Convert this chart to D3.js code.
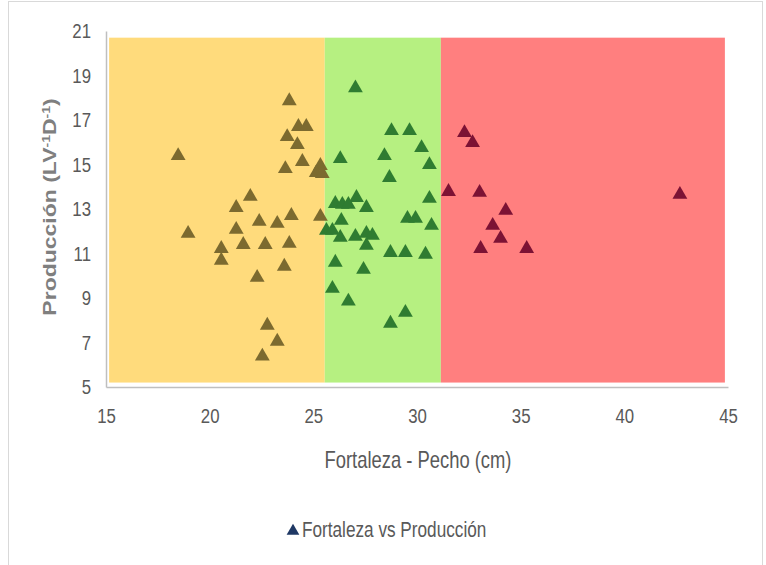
<!DOCTYPE html>
<html>
<head>
<meta charset="utf-8">
<script src="https://cdn.jsdelivr.net/npm/d3@7"></script>
<style>
  body { margin: 0; background: #fff; }
  svg text { font-family: "Liberation Sans", Arial, sans-serif; }
</style>
</head>
<body>
<div id="chart"></div>
<script>
// data
const fortaleza = [
  18.48, 18.96, 20.56, 20.56, 21.28, 21.28, 21.62, 21.96, 22.29, 22.39,
  22.68, 22.78, 22.54, 23.26, 23.26, 23.6, 23.65, 23.74, 23.84, 23.84,
  23.94, 24.28, 24.66, 24.23, 24.47, 25.34, 25.34, 25.14, 25.43,
  27.03, 28.77, 29.64, 30.22, 26.3, 28.43, 30.6, 28.67, 30.6, 27.08,
  26.06, 26.4, 26.69, 27.56, 26.35, 29.54, 29.93, 30.7, 25.63, 25.92,
  26.3, 27.03, 27.56, 27.85, 27.56, 28.72, 29.44, 30.41, 26.06, 27.42,
  25.92, 26.69, 29.44, 28.72,
  32.29, 32.68, 31.52, 33.02, 34.28, 33.65, 34.03, 33.07, 35.29, 42.68
];
const produccion = [
  15.39, 11.9, 11.22, 10.69, 13.06, 12.08, 11.4, 13.56, 9.92, 12.44,
  11.4, 7.77, 6.38, 7.05, 12.35, 10.42, 14.81, 16.25, 17.86, 11.45,
  12.7, 16.7, 16.7, 15.89, 15.13, 12.66, 14.95, 14.63, 14.59,
  18.44, 16.52, 16.52, 15.75, 15.26, 15.39, 14.99, 14.41, 13.47, 13.51,
  13.24, 13.2, 13.2, 13.06, 12.48, 12.57, 12.57, 12.26, 12.03, 12.03,
  11.72, 11.76, 11.9, 11.81, 11.36, 11.04, 11.04, 10.96, 10.6, 10.28,
  9.43, 8.85, 8.35, 7.86,
  16.43, 15.98, 13.78, 13.74, 12.93, 12.26, 11.67, 11.22, 11.22, 13.65
];
const zoneEdges = [15.15, 25.55, 31.15, 44.85];
const zoneBand = [5.2, 20.7];
const xTicks = [15, 20, 25, 30, 35, 40, 45];
const yTicks = [5, 7, 9, 11, 13, 15, 17, 19, 21];
const seriesName = "Fortaleza vs Producción";

const zoneFill = ["#ffdb7c", "#b6f081", "#ff7f7f"];
const markerFill = ["#7c6a2f", "#2f7c31", "#7c1234"];
const textColor = "#595959";
const lineColor = "#bfbfbf";
const squeeze = 0.8; // the reference text is narrow and tall

const width = 766, height = 565;

const svg = d3.select("#chart").append("svg")
  .attr("width", width)
  .attr("height", height);

// outer chart frame
svg.append("rect")
  .attr("x", 8.5).attr("y", 1.5)
  .attr("width", 754).attr("height", 600)
  .attr("fill", "none")
  .attr("stroke", "#d9d9d9");

const x = d3.scaleLinear().domain([15, 45]).range([106, 728]);
const y = d3.scaleLinear().domain([5, 21]).range([387, 31]);

// coloured zones
const zones = d3.range(zoneEdges.length - 1).map(i => ({ x0: zoneEdges[i], x1: zoneEdges[i + 1], i: i }));
svg.selectAll(".zone")
  .data(zones)
  .join("rect")
  .attr("class", "zone")
  .attr("x", d => x(d.x0))
  .attr("width", d => x(d.x1) - x(d.x0))
  .attr("y", y(zoneBand[1]))
  .attr("height", y(zoneBand[0]) - y(zoneBand[1]))
  .attr("fill", d => zoneFill[d.i]);

// axes
const xAxis = svg.append("g")
  .attr("transform", `translate(0,${y(5)})`)
  .call(d3.axisBottom(x).tickValues(xTicks).tickSize(0).tickPadding(21));
const yAxis = svg.append("g")
  .attr("transform", `translate(${x(15)},0)`)
  .call(d3.axisLeft(y).tickValues(yTicks).tickSize(0).tickPadding(15));

[xAxis, yAxis].forEach(g => {
  g.select(".domain").attr("stroke", lineColor).attr("stroke-width", 1.5);
  g.selectAll("text")
    .attr("fill", textColor)
    .attr("transform", `scale(${squeeze},1)`)
    .style("font-size", "21px");
});
yAxis.selectAll("text").attr("x", -15 / squeeze);

// points
const zoneOf = d3.scaleThreshold().domain(zoneEdges.slice(1, 3)).range([0, 1, 2]);
const points = fortaleza.map((v, i) => ({ fx: v, py: produccion[i] }));
const tri = d3.symbol().type(d3.symbolTriangle).size(95);

svg.selectAll(".pt")
  .data(points)
  .join("path")
  .attr("class", "pt")
  .attr("d", tri)
  .attr("transform", d => `translate(${x(d.fx)},${y(d.py)})`)
  .attr("fill", d => markerFill[zoneOf(d.fx)]);

// axis titles
svg.append("text")
  .attr("transform", `translate(418,468) scale(${squeeze},1)`)
  .attr("text-anchor", "middle")
  .attr("fill", textColor)
  .style("font-size", "23px")
  .text("Fortaleza - Pecho (cm)");

const yTitle = svg.append("text")
  .attr("transform", `translate(56,207) rotate(-90) scale(1,${squeeze})`)
  .attr("text-anchor", "middle")
  .attr("fill", "#7f7f7f")
  .style("font-size", "23px")
  .style("font-weight", "bold");
yTitle.append("tspan").text("Producción (LV");
yTitle.append("tspan").attr("dy", -8).style("font-size", "14px").text("-1");
yTitle.append("tspan").attr("dy", 8).text("D");
yTitle.append("tspan").attr("dy", -8).style("font-size", "14px").text("-1");
yTitle.append("tspan").attr("dy", 8).text(")");

// legend
svg.append("path")
  .attr("d", d3.symbol().type(d3.symbolTriangle).size(70))
  .attr("transform", "translate(293,531)")
  .attr("fill", "#1f3864");
svg.append("text")
  .attr("transform", `translate(302,537) scale(${squeeze},1)`)
  .attr("fill", textColor)
  .style("font-size", "21.5px")
  .text(seriesName);
</script>
</body>
</html>
